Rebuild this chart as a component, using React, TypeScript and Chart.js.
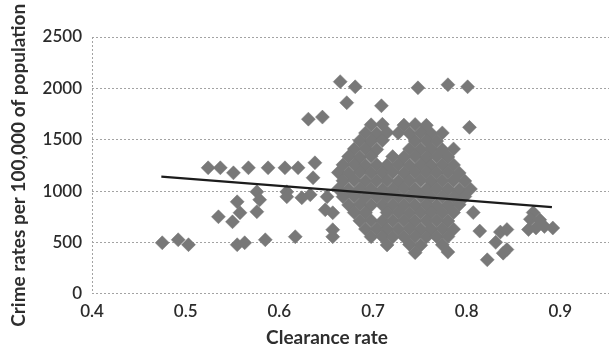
import React, { useEffect, useRef } from "react";
import { Chart, registerables } from "chart.js";

Chart.register(...registerables);

// Axis ranges / ticks
const xMin = 0.4;
const xMax = 1.0;
const xStep = 0.1;
const yMin = 0;
const yMax = 2500;
const yStep = 500;

const xTitle = "Clearance rate";
const yTitle = "Crime rates per 100,000 of population";

// Scattered points on the left side [clearance rate, crime rate]
const leftPoints: [number, number][] = [
  [0.475, 496], [0.492, 525], [0.503, 477], [0.555, 477], [0.563, 496], [0.585, 525], [0.617, 555],
  [0.524, 1226], [0.537, 1226], [0.551, 1177], [0.567, 1226], [0.588, 1226], [0.606, 1226], [0.620, 1226],
  [0.638, 1275], [0.636, 1129],
  [0.576, 992], [0.579, 915], [0.555, 895], [0.558, 788], [0.576, 798], [0.535, 749], [0.550, 700],
  [0.608, 992], [0.608, 944], [0.624, 934], [0.633, 963], [0.651, 944], [0.649, 817], [0.657, 788],
  [0.657, 623], [0.657, 555],
];

// High outliers
const highPoints: [number, number][] = [
  [0.665, 2065], [0.681, 2015], [0.748, 2005], [0.780, 2035], [0.801, 2015],
  [0.672, 1860], [0.709, 1830], [0.631, 1700], [0.646, 1720], [0.803, 1620],
];

// Dense central cluster
const clusterPoints: [number, number][] = [
  [0.698, 1645], [0.710, 1650], [0.733, 1642], [0.745, 1648], [0.757, 1640],
  [0.692, 1565], [0.704, 1560], [0.715, 1570], [0.727, 1565], [0.739, 1562], [0.751, 1568], [0.762, 1560], [0.774, 1566],
  [0.686, 1490], [0.698, 1486], [0.710, 1492], [0.745, 1488], [0.757, 1490], [0.768, 1486],
  [0.680, 1410], [0.692, 1412], [0.704, 1405], [0.739, 1410], [0.751, 1408], [0.762, 1412], [0.774, 1405], [0.786, 1410],
  [0.674, 1335], [0.686, 1330], [0.698, 1338], [0.721, 1335], [0.733, 1332], [0.745, 1336], [0.757, 1330], [0.768, 1335], [0.780, 1332],
  [0.668, 1255], [0.680, 1258], [0.692, 1252], [0.704, 1256], [0.715, 1254], [0.727, 1258], [0.739, 1252], [0.751, 1255], [0.762, 1250], [0.774, 1256], [0.786, 1254],
  [0.663, 1180], [0.674, 1176], [0.686, 1182], [0.698, 1178], [0.710, 1180], [0.721, 1184], [0.733, 1176], [0.745, 1180], [0.757, 1182], [0.768, 1178], [0.780, 1180], [0.792, 1176],
  [0.668, 1100], [0.680, 1104], [0.692, 1098], [0.704, 1100], [0.715, 1102], [0.727, 1096], [0.739, 1100], [0.751, 1104], [0.762, 1098], [0.774, 1100], [0.786, 1102], [0.798, 1098],
  [0.663, 1020], [0.674, 1018], [0.686, 1022], [0.698, 1020], [0.710, 1016], [0.721, 1020], [0.733, 1024], [0.745, 1020], [0.757, 1018], [0.768, 1022], [0.780, 1020], [0.792, 1016], [0.804, 1020],
  [0.668, 945], [0.680, 948], [0.692, 942], [0.704, 945], [0.715, 947], [0.727, 943], [0.739, 945], [0.751, 948], [0.762, 944], [0.774, 945], [0.786, 942], [0.798, 946],
  [0.674, 865], [0.686, 868], [0.698, 862], [0.710, 865], [0.721, 867], [0.733, 863], [0.745, 865], [0.757, 868], [0.768, 862], [0.780, 865], [0.792, 866],
  [0.680, 790], [0.692, 788], [0.715, 792], [0.727, 790], [0.739, 786], [0.751, 790], [0.762, 792], [0.774, 788], [0.786, 790],
  [0.686, 710], [0.698, 712], [0.710, 708], [0.721, 710], [0.733, 714], [0.745, 708], [0.757, 710], [0.768, 712], [0.780, 708],
  [0.692, 630], [0.704, 632], [0.715, 628], [0.727, 630], [0.739, 634], [0.751, 628], [0.762, 630], [0.774, 632], [0.786, 628],
  [0.698, 555], [0.710, 558], [0.721, 552], [0.733, 555], [0.745, 557], [0.757, 553], [0.768, 555], [0.780, 556],
  [0.715, 475], [0.739, 478], [0.751, 472], [0.774, 476],
  [0.745, 400], [0.780, 405],
];

// Points on the right side
const rightPoints: [number, number][] = [
  [0.807, 790], [0.814, 610], [0.836, 600], [0.843, 625], [0.831, 500], [0.843, 430], [0.839, 395], [0.822, 330],
  [0.871, 790], [0.868, 725], [0.878, 720], [0.883, 655], [0.874, 640], [0.866, 625], [0.892, 640],
];

// Linear trend line end points
const trendX = [0.474, 0.891];
const trendY = [1141, 843];

const toXY = (pts: [number, number][]) => pts.map(([x, y]) => ({ x, y }));

export default function App() {
  const canvasRef = useRef<HTMLCanvasElement | null>(null);

  useEffect(() => {
    if (!canvasRef.current) return;
    const allPoints = [...leftPoints, ...highPoints, ...clusterPoints, ...rightPoints];
    const gridColor = "#a3a3a3";
    const chart = new Chart(canvasRef.current, {
      type: "scatter",
      data: {
        datasets: [
          {
            type: "line",
            label: "Trend",
            data: trendX.map((x, i) => ({ x, y: trendY[i] })),
            borderColor: "#1c1c1c",
            borderWidth: 2.2,
            pointRadius: 0,
            fill: false,
          },
          {
            label: "Crime rate",
            data: toXY(allPoints),
            pointStyle: "rectRot",
            pointRadius: 7,
            backgroundColor: "#787878",
            borderColor: "#787878",
            borderWidth: 0.5,
          },
        ],
      },
      options: {
        animation: false,
        responsive: false,
        layout: { padding: { left: 0, top: 37, right: 40, bottom: 0 } },
        plugins: {
          legend: { display: false },
          tooltip: { enabled: false },
          title: {
            display: true,
            position: "bottom",
            text: xTitle,
            color: "#2e2e2e",
            font: { family: "Lato", size: 19, weight: "bold", lineHeight: 1.2 },
            padding: { top: 0, bottom: 5 },
          },
        },
        scales: {
          x: {
            type: "linear",
            min: xMin,
            max: xMax,
            afterFit: (scale: any) => {
              scale.height = 32.5;
            },
            ticks: {
              stepSize: xStep,
              padding: 8,
              color: "#2b2b2b",
              font: { family: "Lato", size: 17, weight: "600" },
              callback: (v: any) => Number(v).toFixed(1),
            },
            grid: {
              drawTicks: false,
              lineWidth: 1,
              color: (ctx: any) => (ctx.index === 0 ? gridColor : "rgba(0,0,0,0)"),
            },
            border: { display: false, dash: [2, 2] },
          },
          y: {
            type: "linear",
            min: yMin,
            max: yMax,
            afterFit: (scale: any) => {
              scale.width = 92;
            },
            ticks: {
              stepSize: yStep,
              padding: 10,
              color: "#2b2b2b",
              font: { family: "Lato", size: 17, weight: "600" },
              callback: (v: any) => String(v),
            },
            title: {
              display: true,
              text: yTitle,
              color: "#2e2e2e",
              font: { family: "Lato", size: 19, weight: "bold", lineHeight: 1.2 },
              padding: { top: 7, bottom: 0 },
            },
            grid: {
              drawTicks: false,
              lineWidth: 1,
              color: gridColor,
            },
            border: { display: false, dash: [2, 2] },
          },
        },
      },
    });
    return () => chart.destroy();
  }, []);

  return (
    <div
      style={{
        position: "fixed",
        left: 0,
        top: 0,
        width: 609,
        height: 354,
        overflow: "hidden",
        background: "#ffffff",
      }}
    >
      <canvas
        ref={canvasRef}
        width={694}
        height={354}
        style={{ display: "block", width: 694, height: 354 }}
      />
    </div>
  );
}
